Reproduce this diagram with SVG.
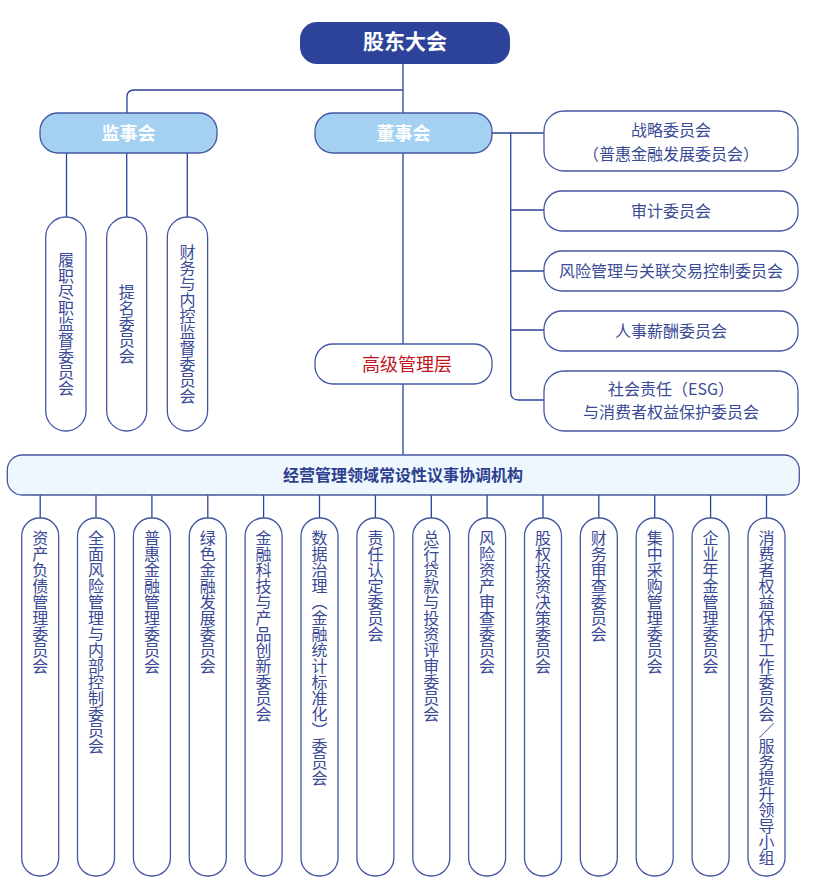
<svg xmlns="http://www.w3.org/2000/svg" width="815" height="883" viewBox="0 0 815 883">
<style>
text{font-family:"Noto Sans CJK SC","Noto Sans",sans-serif;}
.ln{fill:none;stroke:#2d4399;stroke-width:1.3;}
.box{fill:#ffffff;stroke:#4556a3;stroke-width:1.3;}
.lb{fill:#a4d0f1;stroke:#4556a3;stroke-width:1.3;}
.bar{fill:#eef6fe;stroke:#4556a3;stroke-width:1.3;}
.t{font-size:16px;fill:#3a4a96;}
.v{font-size:16px;fill:#3a4a96;writing-mode:vertical-rl;}
.w{font-weight:bold;fill:#ffffff;}
</style>
<rect width="815" height="883" fill="#ffffff"/>
<g id="connectors">
<path class="ln" d="M403,64 V113"/>
<path class="ln" d="M403,90 H134 Q127,90 127,97 V113"/>
<path class="ln" d="M66.5,153 V217 M126.7,153 V217 M187.3,153 V217"/>
<path class="ln" d="M403,153 V344 M403,384 V455"/>
<path class="ln" d="M492,133 H544 M510.7,133 V392 Q510.7,400 518.7,400 H544 M510.7,210 H544 M510.7,271 H544 M510.7,330 H544"/>
<path class="ln" d="M40.2,495 V518 M96,495 V518 M151.9,495 V518 M207.8,495 V518 M263.6,495 V518 M319.5,495 V518 M375.4,495 V518 M431.3,495 V518 M487.1,495 V518 M543,495 V518 M598.8,495 V518 M654.7,495 V518 M710.6,495 V518 M766.5,495 V518"/>
</g>
<g id="gudong">
<rect x="300" y="22" width="210" height="42" rx="17" fill="#2d4399"/>
<text x="405" y="49" class="w" font-size="21" text-anchor="middle">股东大会</text>
</g>
<g id="jianshihui">
<rect class="lb" x="40" y="113" width="177" height="40" rx="18"/>
<text x="128.5" y="139.5" class="w" font-size="18" text-anchor="middle">监事会</text>
</g>
<g id="dongshihui">
<rect class="lb" x="315" y="113" width="177" height="40" rx="18"/>
<text x="403.5" y="139.5" class="w" font-size="18" text-anchor="middle">董事会</text>
</g>
<g id="gaoji">
<rect class="box" x="315" y="344" width="177" height="40" rx="18"/>
<text x="407" y="370.5" font-size="18" fill="#c0141c" text-anchor="middle">高级管理层</text>
</g>
<g id="jsh1"><rect class="box" x="45.7" y="217" width="40.3" height="214" rx="20"/><text class="v" x="66" y="324" text-anchor="middle">履职尽职监督委员会</text></g>
<g id="jsh2"><rect class="box" x="106.7" y="217" width="40" height="214" rx="20"/><text class="v" x="126.7" y="324" text-anchor="middle">提名委员会</text></g>
<g id="jsh3"><rect class="box" x="167.3" y="217" width="40.3" height="214" rx="20"/><text class="v" x="187.5" y="324" text-anchor="middle">财务与内控监督委员会</text></g>
<g id="dsh1"><rect class="box" x="544" y="111" width="254" height="60" rx="20"/><text class="t" x="671" y="136" text-anchor="middle">战略委员会</text><text class="t" x="671" y="159.5" text-anchor="middle">（普惠金融发展委员会）</text></g>
<g id="dsh2"><rect class="box" x="544" y="191" width="254" height="40" rx="18"/><text class="t" x="671" y="216.5" text-anchor="middle">审计委员会</text></g>
<g id="dsh3"><rect class="box" x="544" y="251" width="254" height="40" rx="18"/><text class="t" x="671" y="276.5" text-anchor="middle">风险管理与关联交易控制委员会</text></g>
<g id="dsh4"><rect class="box" x="544" y="311" width="254" height="40" rx="18"/><text class="t" x="671" y="336.5" text-anchor="middle">人事薪酬委员会</text></g>
<g id="dsh5"><rect class="box" x="544" y="371" width="254" height="60" rx="20"/><text class="t" x="671" y="394.5" text-anchor="middle">社会责任（ESG）</text><text class="t" x="671" y="418" text-anchor="middle">与消费者权益保护委员会</text></g>
<g id="bar">
<rect class="bar" x="7.3" y="455" width="792" height="40" rx="15"/>
<text x="403" y="480.5" font-size="16" font-weight="bold" fill="#2d3f8f" text-anchor="middle">经营管理领域常设性议事协调机构</text>
</g>
<g id="c1"><rect class="box" x="21.7" y="518" width="37" height="358" rx="18"/><text class="v" x="40.2" y="530">资产负债管理委员会</text></g>
<g id="c2"><rect class="box" x="77.5" y="518" width="37" height="358" rx="18"/><text class="v" x="96" y="530">全面风险管理与内部控制委员会</text></g>
<g id="c3"><rect class="box" x="133.4" y="518" width="37" height="358" rx="18"/><text class="v" x="151.9" y="530">普惠金融管理委员会</text></g>
<g id="c4"><rect class="box" x="189.3" y="518" width="37" height="358" rx="18"/><text class="v" x="207.8" y="530">绿色金融发展委员会</text></g>
<g id="c5"><rect class="box" x="245.1" y="518" width="37" height="358" rx="18"/><text class="v" x="263.6" y="530">金融科技与产品创新委员会</text></g>
<g id="c6"><rect class="box" x="301" y="518" width="37" height="358" rx="18"/><text class="v" x="319.5" y="530">数据治理（金融统计标准化）委员会</text></g>
<g id="c7"><rect class="box" x="356.9" y="518" width="37" height="358" rx="18"/><text class="v" x="375.4" y="530">责任认定委员会</text></g>
<g id="c8"><rect class="box" x="412.8" y="518" width="37" height="358" rx="18"/><text class="v" x="431.3" y="530">总行贷款与投资评审委员会</text></g>
<g id="c9"><rect class="box" x="468.6" y="518" width="37" height="358" rx="18"/><text class="v" x="487.1" y="530">风险资产审查委员会</text></g>
<g id="c10"><rect class="box" x="524.5" y="518" width="37" height="358" rx="18"/><text class="v" x="543" y="530">股权投资决策委员会</text></g>
<g id="c11"><rect class="box" x="580.3" y="518" width="37" height="358" rx="18"/><text class="v" x="598.8" y="530">财务审查委员会</text></g>
<g id="c12"><rect class="box" x="636.2" y="518" width="37" height="358" rx="18"/><text class="v" x="654.7" y="530">集中采购管理委员会</text></g>
<g id="c13"><rect class="box" x="692.1" y="518" width="37" height="358" rx="18"/><text class="v" x="710.6" y="530">企业年金管理委员会</text></g>
<g id="c14"><rect class="box" x="748" y="518" width="37" height="358" rx="18"/><text class="v" x="766.5" y="530">消费者权益保护工作委员会／服务提升领导小组</text></g>
</svg>
